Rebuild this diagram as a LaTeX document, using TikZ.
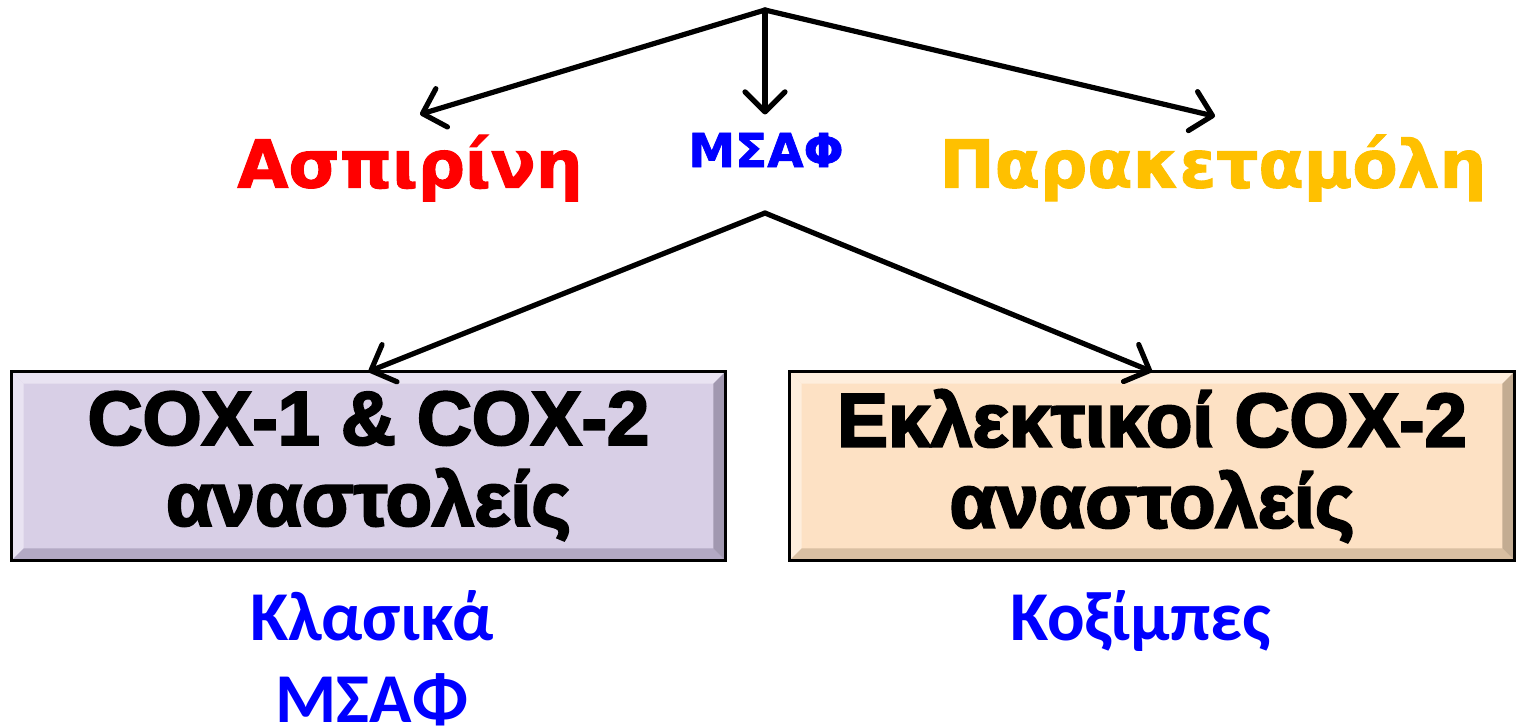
\documentclass[tikz,border=0pt]{standalone}
\usepackage{fontspec}
\usetikzlibrary{arrows.meta,calc}
\setmainfont{DejaVu Sans}
\newfontfamily\blackfont[FakeBold=1.5]{DejaVu Sans Bold}
\newfontfamily\boxfont[FakeBold=3]{Liberation Sans Bold}
\newfontfamily\bluefont{Carlito Bold}
\definecolor{lav}{HTML}{D8CFE6}
\definecolor{lavlight}{HTML}{E9E3F2}
\definecolor{lavdark}{HTML}{B3A9C4}
\definecolor{peach}{HTML}{FDE1C4}
\definecolor{peachlight}{HTML}{FEEEDD}
\definecolor{peachdark}{HTML}{D9BFA2}
\definecolor{orng}{HTML}{FFC000}
\newcommand\bevelbox[3]{%
  \fill[#2] (#1.north west) -- (#1.north east) -- ($(#1.north east)+(-12,12)$) -- ($(#1.north west)+(12,12)$) -- cycle;
  \fill[#2] (#1.north west) -- ($(#1.north west)+(12,12)$) -- ($(#1.south west)+(12,-12)$) -- (#1.south west) -- cycle;
  \fill[#3] (#1.south west) -- (#1.south east) -- ($(#1.south east)+(-12,-12)$) -- ($(#1.south west)+(12,-12)$) -- cycle;
  \fill[#3!90!black] (#1.north east) -- (#1.south east) -- ($(#1.south east)+(-12,-12)$) -- ($(#1.north east)+(-12,12)$) -- cycle;
  \draw[line width=1.5pt] (#1.north west) rectangle (#1.south east);
}
\begin{document}
\begin{tikzpicture}[x=0.5pt,y=-0.5pt,
  arr/.style={line width=2.6pt,line cap=round,line join=round,-{Straight Barb[length=10pt,width=20pt,line width=2.6pt,round]}},
  lbl/.style={font=\blackfont\fontsize{33}{38}\selectfont, inner sep=0pt},
  box/.style={font=\boxfont\fontsize{38}{40.5}\selectfont, align=center, inner sep=0pt},
  sub/.style={font=\bluefont\fontsize{35}{41}\selectfont, align=center, text=blue, inner sep=0pt, anchor=north}]
\useasboundingbox (0,0) rectangle (1516,725);
\coordinate (top) at (765,10);
\node[lbl, text=red] (asp) at (410,168) {Ασπιρίνη};
\node[font=\blackfont\fontsize{23.5}{26}\selectfont, text=blue, inner sep=0pt] (msaf) at (766,150) {ΜΣΑΦ};
\node[lbl, text=orng] (par) at (1213,168) {Παρακεταμόλη};
\coordinate (apex) at (765,213);
\node[box, fill=lav, minimum width=356.5pt, minimum height=94pt] (lbox) at (368.5,466) {COX-1 \& COX-2\\αναστολείς};
\node[box, fill=peach, minimum width=362pt, minimum height=94pt] (rbox) at (1152,466) {Εκλεκτικοί COX-2\\αναστολείς};
\bevelbox{lbox}{lavlight}{lavdark}
\bevelbox{rbox}{peachlight}{peachdark}
\node[sub] (klas) at (372,590) {Κλασικά\\ΜΣΑΦ};
\node[sub] (cox) at (1141,590) {Κοξίμπες};
\draw[arr] (top) -- ($(asp.north)+(10,-20)$);
\draw[arr] (top) -- ($(msaf.north)+(-1,-18)$);
\draw[arr] (top) -- ($(par.north)+(2,-18)$);
\draw[arr] (apex) -- (lbox.north);
\draw[arr] (apex) -- (rbox.north);
\end{tikzpicture}
\end{document}
